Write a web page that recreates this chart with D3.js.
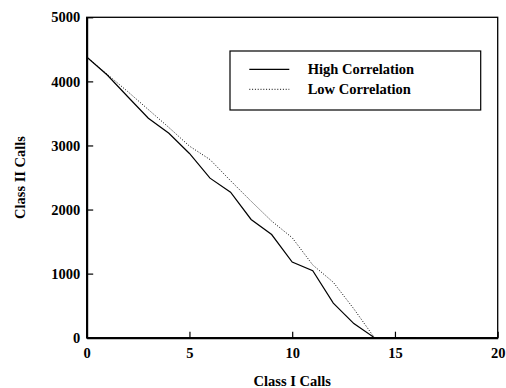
<!DOCTYPE html>
<html lang="en">
<head>
  <meta charset="UTF-8">
  <title>Class I vs Class II Calls</title>
  <script src="https://d3js.org/d3.v7.min.js"></script>
  <style>
    body { margin: 0; background: #fff; }
    text { font-family: "Liberation Serif", "Times New Roman", serif; font-weight: bold; }
  </style>
</head>
<body>
  <svg id="chart" width="506" height="388"></svg>
  <script>
    // data
    const classI = [0, 1, 2, 3, 4, 5, 6, 7, 8, 9, 10, 11, 12, 13, 14, 15, 16];
    const highCorr = [4380, 4100, 3760, 3425, 3190, 2875, 2490, 2270, 1845, 1610, 1180, 1045, 540, 220, 0, 0, 0];
    const lowCorr = [4380, 4110, 3840, 3560, 3280, 2990, 2780, 2450, 2130, 1820, 1560, 1135, 865, 450, 0, 0, 0];
    const xTicks = [0, 5, 10, 15, 20];
    const yTicks = [0, 1000, 2000, 3000, 4000, 5000];
    const seriesNames = ["High Correlation", "Low Correlation"];

    const svg = d3.select("#chart");
    const plotLeft = 86.7, plotRight = 497.7, plotTop = 17.3, plotBottom = 337.7;

    const x = d3.scaleLinear().domain([0, 20]).range([plotLeft, plotRight]);
    const y = d3.scaleLinear().domain([0, 5000]).range([plotBottom, plotTop]);

    // frame
    svg.append("rect")
      .attr("x", plotLeft).attr("y", plotTop)
      .attr("width", plotRight - plotLeft).attr("height", plotBottom - plotTop)
      .attr("fill", "none").attr("stroke", "#000").attr("stroke-width", 1.3);

    // axes with inward ticks
    const xAxis = svg.append("g")
      .attr("transform", `translate(0,${plotBottom})`)
      .call(d3.axisBottom(x).tickValues(xTicks).tickFormat(d3.format("d"))
        .tickSize(-6).tickPadding(10).tickSizeOuter(0));
    const yAxis = svg.append("g")
      .attr("transform", `translate(${plotLeft},0)`)
      .call(d3.axisLeft(y).tickValues(yTicks).tickFormat(d3.format("d"))
        .tickSize(-6.5).tickPadding(6.5).tickSizeOuter(0));

    [xAxis, yAxis].forEach(g => {
      g.select(".domain").attr("stroke", "#000").attr("stroke-width", 2);
      g.selectAll(".tick line").attr("stroke", "#000").attr("stroke-width", 1.2);
      g.selectAll(".tick text")
        .attr("fill", "#000")
        .style("font-family", "'Liberation Serif', 'Times New Roman', serif")
        .style("font-weight", "bold")
        .style("font-size", "14.5px");
    });

    // axis titles
    svg.append("text")
      .attr("x", (plotLeft + plotRight) / 2).attr("y", 385.5)
      .attr("text-anchor", "middle")
      .style("font-size", "14.5px")
      .text("Class I Calls");

    svg.append("text")
      .attr("transform", `translate(25,${(plotTop + plotBottom) / 2}) rotate(-90)`)
      .attr("text-anchor", "middle")
      .style("font-size", "14.5px")
      .text("Class II Calls");

    // lines
    const line = d3.line()
      .x((d, i) => x(classI[i]))
      .y(d => y(d));

    svg.append("path")
      .datum(highCorr)
      .attr("d", line)
      .attr("fill", "none")
      .attr("stroke", "#000")
      .attr("stroke-width", 1.2);

    svg.append("path")
      .datum(lowCorr)
      .attr("d", line)
      .attr("fill", "none")
      .attr("stroke", "#000")
      .attr("stroke-width", 1)
      .attr("stroke-dasharray", "1,1.8");

    // legend
    const legend = svg.append("g");
    legend.append("rect")
      .attr("x", 230).attr("y", 51)
      .attr("width", 250.7).attr("height", 59)
      .attr("fill", "#fff").attr("stroke", "#000").attr("stroke-width", 1.2);

    const dashes = [null, "1,1.8"];
    seriesNames.forEach((name, i) => {
      const ly = 69.3 + i * 20;
      legend.append("line")
        .attr("x1", 249.3).attr("x2", 289.3)
        .attr("y1", ly).attr("y2", ly)
        .attr("stroke", "#000")
        .attr("stroke-width", i === 0 ? 1.2 : 1)
        .attr("stroke-dasharray", dashes[i]);
      legend.append("text")
        .attr("x", 307.7).attr("y", ly + 4.7)
        .style("font-size", "14.5px")
        .text(name);
    });
  </script>
</body>
</html>
